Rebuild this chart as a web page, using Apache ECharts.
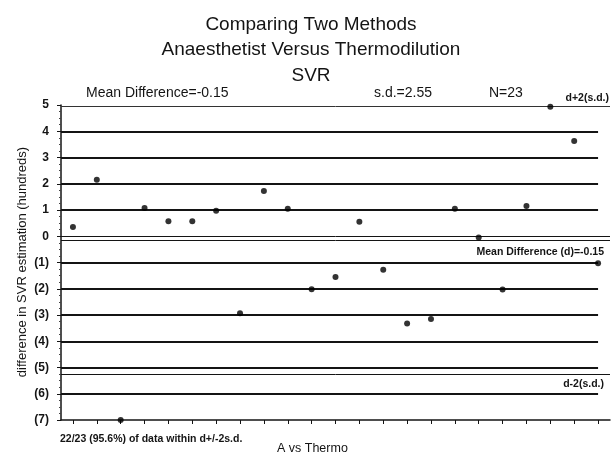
<!DOCTYPE html>
<html>
<head>
<meta charset="utf-8">
<script src="https://cdn.jsdelivr.net/npm/echarts@6/dist/echarts.min.js"></script>
<style>
  html, body { margin: 0; padding: 0; background: #fff; }
  #chart { width: 613px; height: 459px; }
</style>
</head>
<body>
<div id="chart"></div>
<script>
// chart data
const cases = ['1', '2', '3', '4', '5', '6', '7', '8', '9', '10', '11', '12',
  '13', '14', '15', '16', '17', '18', '19', '20', '21', '22', '23'];
const differences = [0.35, 2.15, -7.0, 1.08, 0.57, 0.57, 0.97, -2.93, 1.72, 1.05, -2.02, -1.55,
  0.55, -1.28, -3.32, -3.15, 1.05, -0.05, -2.03, 1.15, 4.93, 3.63, -1.03];
const gridLevels = [4, 3, 2, 1, -1, -2, -3, -4, -5, -6];
const meanDiff = -0.15;
const sdDiff = 2.55;
const nPoints = 23;
const upperLimit = meanDiff + 2 * sdDiff;  // d+2(s.d.)
const lowerLimit = meanDiff - 2 * sdDiff;  // d-2(s.d.)
const titleLines = ['Comparing Two Methods', 'Anaesthetist Versus Thermodilution', 'SVR'];

const FONT = '"Liberation Sans", Arial, sans-serif';
const INK = '#141414';

const chart = echarts.init(document.getElementById('chart'));

// horizontal lines: whole hundreds stop at the last case, reference lines run to the edge
const thick = { color: INK, width: 2, type: 'solid' };
const thin = { color: INK, width: 1, type: 'solid' };
const lineData = gridLevels.map(v => [
  { coord: [0.5, v], lineStyle: thick },
  { coord: [nPoints, v] }
]).concat([
  [{ coord: [0.5, 0], lineStyle: thin }, { coord: [nPoints + 0.5, 0] }],
  [{ coord: [0.5, meanDiff], lineStyle: thin }, { coord: [nPoints + 0.5, meanDiff] }],
  [{ coord: [0.5, upperLimit], lineStyle: { color: '#333', width: 1, type: 'solid' } }, { coord: [nPoints + 0.5, upperLimit] }],
  [{ coord: [0.5, lowerLimit], lineStyle: thin }, { coord: [nPoints + 0.5, lowerLimit] }]
]);

const txt = (text, x, y, size, weight, align, rotation) => ({
  type: 'text', x: x, y: y, silent: true, rotation: rotation || 0,
  style: {
    text: text, fill: INK, font: (weight || 'normal') + ' ' + size + 'px ' + FONT,
    align: align || 'left', verticalAlign: 'middle'
  }
});

const option = {
  backgroundColor: '#fff',
  animation: false,
  grid: { left: 61, right: 3, top: 105, bottom: 39 },
  xAxis: [
    {
      type: 'value', min: 0.5, max: nPoints + 0.5,
      axisLine: { show: true, onZero: false, lineStyle: { color: INK, width: 1.5 } },
      axisTick: { show: false }, axisLabel: { show: false }, splitLine: { show: false }
    },
    {
      type: 'category', data: cases, boundaryGap: true, position: 'bottom',
      axisLine: { show: false, onZero: false },
      axisTick: { show: true, alignWithLabel: true, length: 4, lineStyle: { color: INK, width: 1 } },
      axisLabel: { show: false }, splitLine: { show: false }
    }
  ],
  yAxis: {
    type: 'value', min: -7, max: 5, interval: 1,
    axisLine: { show: true, onZero: false, lineStyle: { color: INK, width: 1.5 } },
    axisTick: { show: true, length: 4, lineStyle: { color: INK } },
    minorTick: { show: true, splitNumber: 4, length: 2, lineStyle: { color: '#444' } },
    axisLabel: {
      color: INK, fontSize: 12, fontWeight: 'bold', fontFamily: FONT, margin: 12,
      formatter: v => (v < 0 ? '(' + (-v) + ')' : String(v))
    },
    splitLine: { show: false }
  },
  series: [{
    type: 'scatter',
    xAxisIndex: 0,
    symbol: 'circle', symbolSize: 6,
    itemStyle: { color: '#000' },
    data: differences.map((v, i) => [i + 1, v]),
    markLine: {
      silent: true, symbol: 'none', label: { show: false },
      animation: false,
      data: lineData
    },
    z: 5
  }],
  graphic: [
    txt(titleLines[0], 311, 24.5, 19, 'normal', 'center'),
    txt(titleLines[1], 311, 50, 19, 'normal', 'center'),
    txt(titleLines[2], 311, 75.5, 19, 'normal', 'center'),
    txt('difference in SVR estimation (hundreds)', 22, 262, 13, 'normal', 'center', Math.PI / 2),
    txt('Mean Difference=' + meanDiff.toFixed(2), 86, 93, 14),
    txt('s.d.=' + sdDiff.toFixed(2), 374, 93, 14),
    txt('N=' + nPoints, 489, 93, 14),
    txt('d+2(s.d.)', 609, 98, 10.5, 'bold', 'right'),
    txt('Mean Difference (d)=' + meanDiff.toFixed(2), 604, 252, 10.5, 'bold', 'right'),
    txt('d-2(s.d.)', 604, 384, 10.5, 'bold', 'right'),
    txt('22/23 (95.6%) of data within d+/-2s.d.', 60, 439, 10.5, 'bold'),
    txt('A vs Thermo', 277, 449, 12.5)
  ]
};

chart.setOption(option);
</script>
</body>
</html>
